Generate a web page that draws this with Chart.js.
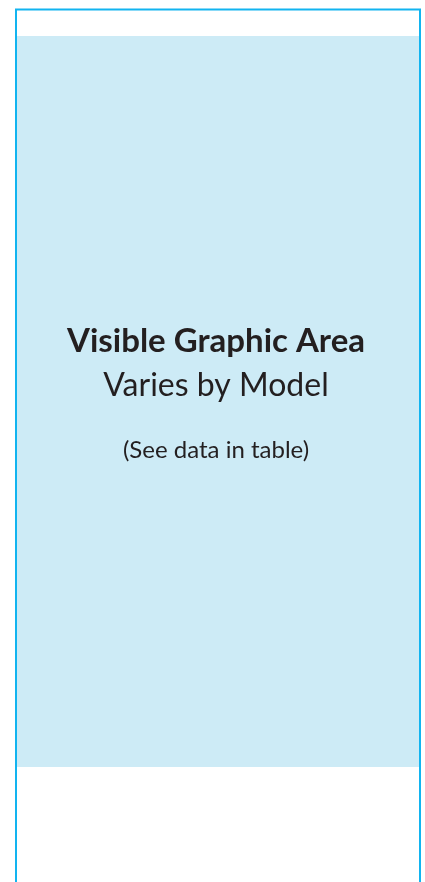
<!DOCTYPE html>
<html>
<head>
<meta charset="utf-8">
<script src="https://cdn.jsdelivr.net/npm/chart.js@4"></script>
<style>
  html, body { margin: 0; padding: 0; background: #fff; }
  #wrap { width: 425px; height: 882px; }
</style>
</head>
<body>
<div id="wrap"><canvas id="chart" width="425" height="882"></canvas></div>
<script>
// page units (the diagram is a device outline, not a data chart)
const pageWidth = 425;
const pageHeight = 882;

// device outline: open at the bottom
const frameX = [16, 16, 420, 420];
const frameY = [882, 9.5, 9.5, 882];

// visible graphic area
const areaX = [17, 419];
const areaTop = [36, 36];
const areaBottom = [767, 767];

// captions (y = text baseline)
const captions = ['Visible Graphic Area', 'Varies by Model', '(See data in table)'];
const captionY = [352, 396, 458];
const captionCenterX = 216;

const toPoints = (xs, ys) => xs.map((x, i) => ({ x, y: ys[i] }));

const captionPlugin = {
  id: 'captions',
  afterDatasetsDraw(chart) {
    const { ctx, scales } = chart;
    const styles = [
      'bold 33px Lato',
      '32px Lato',
      '24px Lato'
    ];
    ctx.save();
    ctx.fillStyle = '#231f20';
    ctx.textAlign = 'center';
    ctx.textBaseline = 'alphabetic';
    captions.forEach((text, i) => {
      ctx.font = styles[i];
      ctx.fillText(text, scales.x.getPixelForValue(captionCenterX), scales.y.getPixelForValue(captionY[i]));
    });
    ctx.restore();
  }
};

new Chart(document.getElementById('chart').getContext('2d'), {
  type: 'scatter',
  data: {
    datasets: [
      {
        data: toPoints(areaX, areaTop),
        showLine: true,
        borderWidth: 0,
        borderColor: 'rgba(0,0,0,0)',
        backgroundColor: '#cdebf6',
        fill: '+1',
        pointRadius: 0,
        order: 3
      },
      {
        data: toPoints(areaX, areaBottom),
        showLine: true,
        borderWidth: 0,
        borderColor: 'rgba(0,0,0,0)',
        pointRadius: 0,
        fill: false,
        order: 2
      },
      {
        data: toPoints(frameX, frameY),
        showLine: true,
        borderColor: '#12b4f0',
        borderWidth: 2,
        pointRadius: 0,
        fill: false,
        tension: 0,
        order: 1
      }
    ]
  },
  options: {
    responsive: false,
    animation: false,
    layout: { padding: 0 },
    plugins: { legend: { display: false }, tooltip: { enabled: false } },
    scales: {
      x: { type: 'linear', display: false, min: 0, max: pageWidth },
      y: { type: 'linear', display: false, min: 0, max: pageHeight, reverse: true }
    }
  },
  plugins: [captionPlugin]
});
</script>
</body>
</html>
